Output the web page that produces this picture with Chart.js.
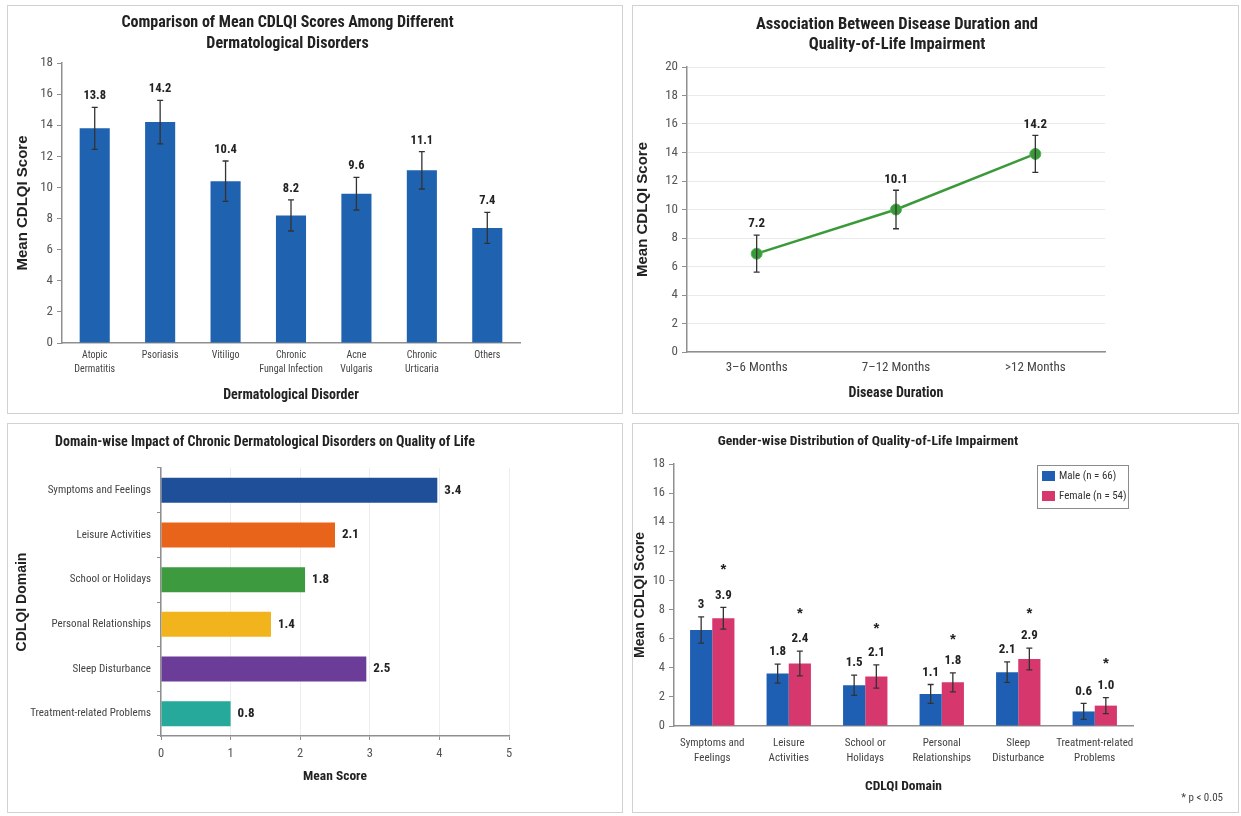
<!DOCTYPE html>
<html>
<head>
<meta charset="utf-8">
<script src="https://cdn.jsdelivr.net/npm/chart.js@4.4.1/dist/chart.umd.min.js"></script>
<style>
  body { margin: 0; background: #fff; }
  .panel { position: absolute; border: 1px solid #d2d2d2; box-sizing: border-box; background: #fff; }
  .panel canvas { position: absolute; left: 0; top: 0; }
</style>
</head>
<body>
<div class="panel" style="left:7px;top:5px;width:616px;height:409px"><canvas id="disorders" width="614" height="407"></canvas></div>
<div class="panel" style="left:632px;top:5px;width:607px;height:409px"><canvas id="duration" width="605" height="407"></canvas></div>
<div class="panel" style="left:7px;top:423px;width:616px;height:390px"><canvas id="domains" width="614" height="388"></canvas></div>
<div class="panel" style="left:632px;top:423px;width:607px;height:390px"><canvas id="gender" width="605" height="388"></canvas></div>
<script>
// --- data ---
const disorderLabels = [['Atopic', 'Dermatitis'], 'Psoriasis', 'Vitiligo', ['Chronic', 'Fungal Infection'], ['Acne', 'Vulgaris'], ['Chronic', 'Urticaria'], 'Others'];
const disorderMeans = [13.8, 14.2, 10.4, 8.2, 9.6, 11.1, 7.4];
const disorderErrors = [1.35, 1.4, 1.3, 1.0, 1.05, 1.2, 1.0];

const durationLabels = ['3–6 Months', '7–12 Months', '>12 Months'];
const durationMeans = [6.9, 10.0, 13.9];
const durationErrors = [1.3, 1.35, 1.3];
const durationTexts = ['7.2', '10.1', '14.2'];

const domainLabels = ['Symptoms and Feelings', 'Leisure Activities', 'School or Holidays', 'Personal Relationships', 'Sleep Disturbance', 'Treatment-related Problems'];
const domainScores = [3.97, 2.5, 2.07, 1.58, 2.95, 1.0];
const domainTexts = ['3.4', '2.1', '1.8', '1.4', '2.5', '0.8'];

const genderLabels = [['Symptoms and', 'Feelings'], ['Leisure', 'Activities'], ['School or', 'Holidays'], ['Personal', 'Relationships'], ['Sleep', 'Disturbance'], ['Treatment-related', 'Problems']];
const maleMeans = [6.6, 3.6, 2.8, 2.2, 3.7, 1.0];
const femaleMeans = [7.4, 4.3, 3.4, 3.0, 4.6, 1.4];
const maleErrors = [0.9, 0.65, 0.7, 0.65, 0.7, 0.55];
const femaleErrors = [0.75, 0.85, 0.8, 0.65, 0.75, 0.55];
const maleTexts = ['3', '1.8', '1.5', '1.1', '2.1', '0.6'];
const femaleTexts = ['3.9', '2.4', '2.1', '1.8', '2.9', '1.0'];
const significanceMarks = [11.0, 8.0, 7.0, 6.2, 8.0, 4.6];

// the original uses a condensed sans; pick one if it is installed,
// otherwise squeeze Liberation Sans for the hand-drawn texts
function hasFont(name) {
  const c = document.createElement('canvas').getContext('2d');
  const probe = 'abcdefghijklmnopqrstuvwxyz0123456789';
  c.font = '20px monospace';
  const a = c.measureText(probe).width;
  c.font = `20px "${name}", monospace`;
  return Math.abs(c.measureText(probe).width - a) > 0.5;
}
const condensed = ['Liberation Sans Narrow', 'Arial Narrow', 'Roboto Condensed', 'Noto Sans Condensed'].find(hasFont);
const SANS = '"Liberation Sans", Arial, sans-serif';
const NARROW = condensed ? `"${condensed}", ${SANS}` : SANS;
const SQUEEZE = condensed ? 1 : 0.83;
const nz = (s) => (condensed ? s : Math.round(s * 0.86 * 2) / 2);
const AXIS = '#8f8f8f';

Chart.defaults.font.family = NARROW;
Chart.defaults.color = '#444';
Chart.defaults.animation = false;
Chart.defaults.plugins.legend.display = false;
Chart.defaults.plugins.tooltip.enabled = false;

const fixWidth = (w) => (scale) => { scale.width = w; };
const fixHeight = (h) => (scale) => { scale.height = h; };

function narrowText(ctx, text, x, y) {
  ctx.save();
  ctx.translate(x, y);
  ctx.scale(SQUEEZE, 1);
  ctx.fillText(text, 0, 0);
  ctx.restore();
}

// panel heading, drawn on the canvas
const panelTitle = {
  id: 'panelTitle',
  afterDraw(chart, args, opts) {
    const { ctx } = chart;
    ctx.save();
    ctx.font = `bold ${opts.size}px ${NARROW}`;
    ctx.fillStyle = '#222';
    ctx.textAlign = 'center';
    ctx.textBaseline = 'middle';
    opts.text.forEach((line, i) => narrowText(ctx, line, opts.x, opts.y + i * opts.gap));
    ctx.restore();
  },
};

// error bars + value labels from dataset.errors / dataset.texts
const errorBars = {
  id: 'errorBars',
  afterDatasetsDraw(chart, args, opts) {
    const { ctx } = chart;
    const horizontal = chart.options.indexAxis === 'y';
    const valueScale = horizontal ? chart.scales.x : chart.scales.y;
    chart.data.datasets.forEach((ds, i) => {
      const meta = chart.getDatasetMeta(i);
      meta.data.forEach((el, j) => {
        const v = ds.data[j];
        let top = el.y;
        ctx.save();
        if (ds.errors) {
          const hi = valueScale.getPixelForValue(v + ds.errors[j]);
          const lo = valueScale.getPixelForValue(v - ds.errors[j]);
          ctx.strokeStyle = '#333';
          ctx.lineWidth = 1.3;
          ctx.beginPath();
          ctx.moveTo(el.x, hi); ctx.lineTo(el.x, lo);
          ctx.moveTo(el.x - opts.cap, hi); ctx.lineTo(el.x + opts.cap, hi);
          ctx.moveTo(el.x - opts.cap, lo); ctx.lineTo(el.x + opts.cap, lo);
          ctx.stroke();
          top = hi;
        }
        if (ds.texts) {
          ctx.font = `bold ${opts.size}px ${NARROW}`;
          ctx.fillStyle = '#222';
          ctx.textBaseline = 'middle';
          if (horizontal) {
            ctx.textAlign = 'left';
            narrowText(ctx, ds.texts[j], el.x + opts.gap, el.y);
          } else {
            ctx.textAlign = 'center';
            narrowText(ctx, ds.texts[j], el.x, top - opts.gap);
          }
        }
        ctx.restore();
      });
    });
  },
};

// boxed legend inside the plot, top right
const boxLegend = {
  id: 'boxLegend',
  afterDraw(chart, args, opts) {
    const { ctx, chartArea } = chart;
    const x = chartArea.right - opts.w - 5;
    const y = chartArea.top + 1;
    ctx.save();
    ctx.fillStyle = '#fff';
    ctx.fillRect(x, y, opts.w, opts.h);
    ctx.strokeStyle = '#8c8c8c';
    ctx.lineWidth = 1;
    ctx.strokeRect(x + 0.5, y + 0.5, opts.w, opts.h);
    ctx.font = `11px ${NARROW}`;
    ctx.textAlign = 'left';
    ctx.textBaseline = 'middle';
    chart.data.datasets.forEach((ds, i) => {
      const cy = y + 11 + i * 20;
      ctx.fillStyle = ds.backgroundColor;
      ctx.fillRect(x + 5, cy - 5, 13, 10);
      ctx.fillStyle = '#333';
      narrowText(ctx, ds.label, x + 22, cy);
    });
    ctx.restore();
  },
};

// significance asterisks above the bars that carry dataset.marks
const significance = {
  id: 'significance',
  afterDatasetsDraw(chart, args, opts) {
    const { ctx } = chart;
    const y = chart.scales.y;
    ctx.save();
    ctx.fillStyle = '#222';
    ctx.textAlign = 'center';
    ctx.textBaseline = 'alphabetic';
    ctx.font = `bold 15px ${SANS}`;
    chart.data.datasets.forEach((ds, i) => {
      if (!ds.marks) return;
      chart.getDatasetMeta(i).data.forEach((el, j) => {
        ctx.fillText('*', el.x, y.getPixelForValue(ds.marks[j]) + 8.5);
      });
    });
    ctx.font = `11px ${NARROW}`;
    ctx.fillStyle = '#444';
    ctx.textAlign = 'right';
    ctx.textBaseline = 'middle';
    narrowText(ctx, opts.note, opts.x, opts.y);
    ctx.restore();
  },
};

const axisTitle = (text, size, pad) => ({
  display: true, text, color: '#222',
  font: { family: SANS, size, weight: 'bold', lineHeight: 1 },
  padding: { top: pad },
});
const bottomTitle = (text, size, pad) => ({
  display: true, text, color: '#222',
  font: { size: nz(size), weight: 'bold', lineHeight: 1.2 },
  padding: { top: 0, bottom: pad },
});

// 1. mean CDLQI per disorder
new Chart(document.getElementById('disorders'), {
  type: 'bar',
  data: {
    labels: disorderLabels,
    datasets: [{
      data: disorderMeans,
      errors: disorderErrors,
      texts: disorderMeans.map((v) => v.toFixed(1)),
      backgroundColor: '#1f62b0',
      barPercentage: 0.46,
      categoryPercentage: 1,
    }],
  },
  options: {
    responsive: false,
    layout: { padding: { top: 57, right: 102, left: 0, bottom: 0 } },
    scales: {
      x: {
        grid: { display: false, drawTicks: false },
        border: { color: AXIS, width: 1.5 },
        ticks: { font: { size: nz(10), lineHeight: 1.45 }, color: '#444', padding: 5, maxRotation: 0, autoSkip: false },
        title: bottomTitle('Dermatological Disorder', 14, 9.6),
        afterFit: fixHeight(70),
      },
      y: {
        min: 0, max: 18,
        ticks: { stepSize: 2, font: { size: nz(13) }, color: '#555', padding: 4 },
        grid: { drawOnChartArea: false, tickLength: 5, color: AXIS },
        border: { color: AXIS, width: 1.5 },
        title: axisTitle('Mean CDLQI Score', 15, 7),
        afterFit: fixWidth(54),
      },
    },
    plugins: {
      panelTitle: { text: ['Comparison of Mean CDLQI Scores Among Different', 'Dermatological Disorders'], x: 279.5, y: 17, gap: 21, size: 16 },
      errorBars: { cap: 3, gap: 11, size: 12.5 },
    },
  },
  plugins: [panelTitle, errorBars],
});

// 2. disease duration trend
new Chart(document.getElementById('duration'), {
  type: 'line',
  data: {
    labels: durationLabels,
    datasets: [{
      data: durationMeans,
      errors: durationErrors,
      texts: durationTexts,
      borderColor: '#3a9a3a',
      backgroundColor: '#3a9a3a',
      borderWidth: 2.5,
      pointRadius: 5.5,
      pointBackgroundColor: '#3a9a3a',
      pointBorderColor: '#55b055',
      pointBorderWidth: 1,
    }],
  },
  options: {
    responsive: false,
    layout: { padding: { top: 61, right: 133, left: 0, bottom: 0 } },
    scales: {
      x: {
        offset: true,
        grid: { display: false, drawTicks: false },
        border: { color: AXIS, width: 1.5 },
        ticks: { font: { size: nz(13) }, color: '#444', padding: 8 },
        title: bottomTitle('Disease Duration', 14, 11.6),
        afterFit: fixHeight(61),
      },
      y: {
        min: 0, max: 20,
        ticks: { stepSize: 2, font: { size: nz(13) }, color: '#555', padding: 4 },
        grid: { color: '#e9e9e9', tickColor: AXIS, tickLength: 5 },
        border: { color: AXIS, width: 1.5 },
        title: axisTitle('Mean CDLQI Score', 15, 2.5),
        afterFit: fixWidth(54),
      },
    },
    plugins: {
      panelTitle: { text: ['Association Between Disease Duration and', 'Quality-of-Life Impairment'], x: 264, y: 19, gap: 20, size: 16.5 },
      errorBars: { cap: 3, gap: 11, size: 13 },
    },
  },
  plugins: [panelTitle, errorBars],
});

// 3. domain-wise impact
new Chart(document.getElementById('domains'), {
  type: 'bar',
  data: {
    labels: domainLabels,
    datasets: [{
      data: domainScores,
      texts: domainTexts,
      backgroundColor: ['#1f4f99', '#e9641b', '#3d9a3f', '#f2b41c', '#6b3d99', '#26a99a'],
      barPercentage: 0.56,
      categoryPercentage: 1,
    }],
  },
  options: {
    responsive: false,
    indexAxis: 'y',
    layout: { padding: { top: 44, right: 113, left: 0, bottom: 0 } },
    scales: {
      x: {
        min: 0, max: 5,
        ticks: { stepSize: 1, font: { size: nz(12.5) }, color: '#555', padding: 6 },
        grid: { color: '#ededed', tickColor: AXIS, tickLength: 4 },
        border: { color: AXIS, width: 1.5 },
        title: bottomTitle('Mean Score', 13.5, 26.9),
        afterFit: fixHeight(76),
      },
      y: {
        grid: { drawOnChartArea: false, tickLength: 4, color: AXIS },
        border: { color: AXIS, width: 1.5 },
        ticks: { font: { size: nz(11) }, color: '#444', padding: 6 },
        title: axisTitle('CDLQI Domain', 14, 7.5),
        afterFit: fixWidth(153),
      },
    },
    plugins: {
      panelTitle: { text: ['Domain-wise Impact of Chronic Dermatological Disorders on Quality of Life'], x: 257, y: 18, gap: 0, size: 14 },
      errorBars: { cap: 3, gap: 7, size: 13 },
    },
  },
  plugins: [panelTitle, errorBars],
});

// 4. male vs female by domain
new Chart(document.getElementById('gender'), {
  type: 'bar',
  data: {
    labels: genderLabels,
    datasets: [{
      label: 'Male (n = 66)',
      data: maleMeans,
      errors: maleErrors,
      texts: maleTexts,
      backgroundColor: '#1f5fb3',
      categoryPercentage: 0.58,
      barPercentage: 1,
    }, {
      label: 'Female (n = 54)',
      data: femaleMeans,
      errors: femaleErrors,
      texts: femaleTexts,
      marks: significanceMarks,
      backgroundColor: '#d6386e',
      categoryPercentage: 0.58,
      barPercentage: 1,
    }],
  },
  options: {
    responsive: false,
    layout: { padding: { top: 40, right: 105, left: 0, bottom: 0 } },
    scales: {
      x: {
        grid: { display: false, drawTicks: false },
        border: { color: AXIS, width: 1.5 },
        ticks: { font: { size: nz(11), lineHeight: 1.35 }, color: '#444', padding: 9.5, maxRotation: 0, autoSkip: false },
        title: bottomTitle('CDLQI Domain', 13.5, 16.9),
        afterFit: fixHeight(86),
      },
      y: {
        min: 0, max: 18,
        ticks: { stepSize: 2, font: { size: nz(12.5) }, color: '#555', padding: 4 },
        grid: { drawOnChartArea: false, tickLength: 5, color: AXIS },
        border: { color: AXIS, width: 1.5 },
        title: axisTitle('Mean CDLQI Score', 14, 0.5),
        afterFit: fixWidth(41),
      },
    },
    plugins: {
      panelTitle: { text: ['Gender-wise Distribution of Quality-of-Life Impairment'], x: 235, y: 18, gap: 0, size: 13.7 },
      errorBars: { cap: 3, gap: 12, size: 13 },
      boxLegend: { w: 91, h: 43 },
      significance: { note: '* p < 0.05', x: 590, y: 374 },
    },
  },
  plugins: [panelTitle, errorBars, boxLegend, significance],
});
</script>
</body>
</html>
